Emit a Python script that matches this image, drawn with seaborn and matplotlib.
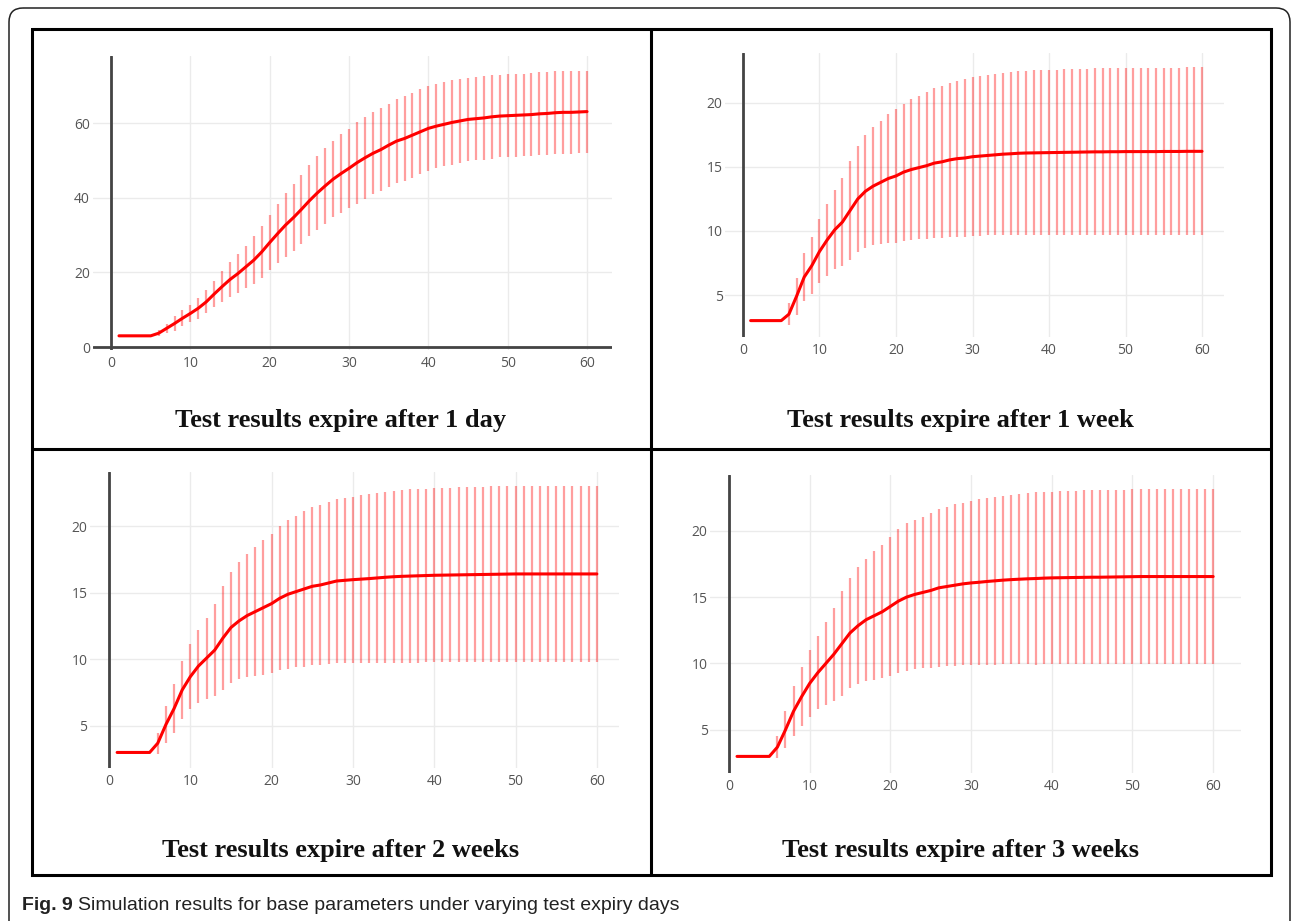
import numpy as np
import pandas as pd
import seaborn as sns
import matplotlib
matplotlib.use("Agg")
import matplotlib.pyplot as plt
from matplotlib.patches import FancyBboxPatch
from matplotlib import font_manager as fm

# ---------------- data ----------------
days = list(range(1, 61))

titles = ["Test results expire after 1 day", "Test results expire after 1 week",
          "Test results expire after 2 weeks", "Test results expire after 3 weeks"]

mean_1day = [3, 3, 3, 3, 3, 3.7, 5.0, 6.3, 7.7, 9.0,
             10.4, 12.1, 14.2, 16.2, 18.1, 19.7, 21.5, 23.3, 25.5, 28.0,
             30.4, 32.7, 34.7, 36.9, 39.2, 41.3, 43.2, 45.0, 46.5, 47.9,
             49.4, 50.7, 51.9, 52.9, 54.1, 55.2, 55.9, 56.8, 57.7, 58.6,
             59.2, 59.7, 60.2, 60.6, 61.0, 61.2, 61.4, 61.7, 61.9, 62.0,
             62.1, 62.2, 62.3, 62.5, 62.6, 62.8, 62.9, 62.9, 63.0, 63.1]
err_1day = [0, 0, 0, 0, 0, 0.8, 1.3, 2.0, 2.1, 2.3,
            2.8, 3.1, 3.4, 4.2, 4.6, 5.1, 5.7, 6.5, 7.0, 7.4,
            8.0, 8.5, 8.9, 9.2, 9.5, 9.9, 10.2, 10.2, 10.5, 10.6,
            11.0, 11.0, 11.0, 11.1, 11.1, 11.3, 11.4, 11.4, 11.4, 11.4,
            11.3, 11.3, 11.3, 11.3, 11.2, 11.2, 11.2, 11.2, 11.1, 11.1,
            11.1, 11.1, 11.1, 11.1, 11.1, 11.1, 11.1, 11.1, 11.1, 11.0]

mean_1week = [3, 3, 3, 3, 3, 3.5, 4.9, 6.4, 7.3, 8.4,
              9.3, 10.1, 10.7, 11.6, 12.5, 13.1, 13.5, 13.8, 14.1, 14.3,
              14.6, 14.8, 14.95, 15.1, 15.3, 15.4, 15.55, 15.65, 15.7, 15.8,
              15.85, 15.9, 15.95, 16.0, 16.03, 16.07, 16.09, 16.1, 16.11, 16.12,
              16.13, 16.14, 16.15, 16.16, 16.17, 16.18, 16.18, 16.19, 16.19, 16.2,
              16.2, 16.2, 16.2, 16.2, 16.21, 16.21, 16.21, 16.22, 16.22, 16.22]
err_1week = [0, 0, 0, 0, 0, 0.85, 1.45, 1.85, 2.2, 2.5,
             2.8, 3.1, 3.45, 3.9, 4.15, 4.4, 4.6, 4.8, 5.0, 5.2,
             5.35, 5.5, 5.6, 5.75, 5.85, 5.95, 6.0, 6.1, 6.15, 6.2,
             6.22, 6.25, 6.3, 6.35, 6.37, 6.4, 6.42, 6.45, 6.45, 6.45,
             6.47, 6.48, 6.5, 6.5, 6.5, 6.51, 6.51, 6.52, 6.52, 6.52,
             6.53, 6.53, 6.53, 6.54, 6.54, 6.54, 6.55, 6.55, 6.55, 6.55]

mean_2weeks = [3, 3, 3, 3, 3, 3.7, 5.1, 6.3, 7.7, 8.7,
               9.5, 10.1, 10.7, 11.6, 12.4, 12.9, 13.3, 13.6, 13.9, 14.2,
               14.6, 14.9, 15.1, 15.3, 15.5, 15.6, 15.75, 15.9, 15.95, 16.0,
               16.04, 16.08, 16.13, 16.18, 16.22, 16.25, 16.27, 16.29, 16.31, 16.33,
               16.34, 16.35, 16.36, 16.37, 16.38, 16.39, 16.4, 16.41, 16.42, 16.43,
               16.43, 16.43, 16.43, 16.43, 16.43, 16.43, 16.43, 16.43, 16.43, 16.43]
err_2weeks = [0, 0, 0, 0, 0, 0.8, 1.4, 1.85, 2.15, 2.45,
              2.75, 3.05, 3.45, 3.9, 4.15, 4.4, 4.65, 4.85, 5.05, 5.25,
              5.4, 5.6, 5.7, 5.85, 5.95, 6.05, 6.1, 6.15, 6.2, 6.25,
              6.3, 6.35, 6.4, 6.45, 6.47, 6.5, 6.52, 6.53, 6.54, 6.55,
              6.56, 6.57, 6.58, 6.59, 6.6, 6.6, 6.61, 6.61, 6.62, 6.62,
              6.63, 6.63, 6.63, 6.64, 6.64, 6.64, 6.65, 6.65, 6.65, 6.65]

mean_3weeks = [3, 3, 3, 3, 3, 3.7, 5.0, 6.4, 7.5, 8.5,
               9.3, 10.0, 10.7, 11.5, 12.3, 12.85, 13.3, 13.6, 13.9, 14.3,
               14.7, 15.0, 15.2, 15.35, 15.5, 15.7, 15.8, 15.9, 16.0, 16.07,
               16.12, 16.18, 16.23, 16.28, 16.32, 16.35, 16.38, 16.4, 16.43, 16.45,
               16.46, 16.47, 16.48, 16.49, 16.5, 16.5, 16.51, 16.52, 16.53, 16.54,
               16.55, 16.55, 16.55, 16.55, 16.55, 16.55, 16.55, 16.55, 16.55, 16.55]
err_3weeks = [0, 0, 0, 0, 0, 0.8, 1.4, 1.9, 2.2, 2.55,
              2.75, 3.1, 3.5, 3.95, 4.15, 4.4, 4.6, 4.85, 5.0, 5.25,
              5.4, 5.55, 5.6, 5.7, 5.85, 5.95, 6.0, 6.1, 6.1, 6.2,
              6.25, 6.3, 6.32, 6.35, 6.38, 6.4, 6.45, 6.5, 6.5, 6.5,
              6.52, 6.53, 6.54, 6.55, 6.55, 6.56, 6.56, 6.57, 6.57, 6.58,
              6.58, 6.58, 6.59, 6.59, 6.59, 6.6, 6.6, 6.6, 6.6, 6.6]

x_ticks = [0, 10, 20, 30, 40, 50, 60]
y_ticks_1day = [0, 20, 40, 60]
y_ticks_other = [5, 10, 15, 20]
caption_bold = "Fig. 9"
caption_rest = "Simulation results for base parameters under varying test expiry days"

# ---------------- layout ----------------
W, H = 1292, 921
sns.set_theme(style="white")
plt.rcParams['font.family'] = ['Open Sans', 'DejaVu Sans']

avail = {f.name for f in fm.fontManager.ttflist}
cap_family = 'Liberation Sans Narrow' if 'Liberation Sans Narrow' in avail else 'Liberation Sans'

fig = plt.figure(figsize=(W / 100, H / 100), dpi=100)
fig.patch.set_facecolor('white')

bg = fig.add_axes([0, 0, 1, 1], zorder=0)
bg.set_xlim(0, W)
bg.set_ylim(H, 0)
bg.axis('off')

# outer rounded frame (bottom runs off the canvas)
bg.add_patch(FancyBboxPatch((9, 8), 1281, 950, boxstyle="round,pad=0,rounding_size=14",
                            fill=False, lw=1.1, ec='#222222', clip_on=True))
# inner box and dividers
bg.plot([32, 1271, 1271, 32, 32], [29, 29, 875, 875, 29], color='black', lw=2.2,
        solid_joinstyle='miter')
bg.plot([651, 651], [29, 875], color='black', lw=2.2)
bg.plot([32, 1271], [449, 449], color='black', lw=2.2)

# panel rects in pixels: (left, top, right, bottom), xlim, ylim
panels = [
    dict(rect=(92.8, 56, 612.4, 350), xlim=(-2.3, 63.2), ylim=(-0.8, 78.0),
         mean=mean_1day, err=err_1day, yt=y_ticks_1day, zero_h=True, title=titles[0], tpos=(341, 420)),
    dict(rect=(725.4, 53, 1224.2, 337), xlim=(-2.3, 62.9), ylim=(1.72, 23.9),
         mean=mean_1week, err=err_1week, yt=y_ticks_other, zero_h=False, title=titles[1], tpos=(960, 420)),
    dict(rect=(90.3, 472, 618.8, 768), xlim=(-2.3, 62.7), ylim=(1.83, 24.1),
         mean=mean_2weeks, err=err_2weeks, yt=y_ticks_other, zero_h=False, title=titles[2], tpos=(341, 850)),
    dict(rect=(710.4, 475, 1240.6, 773), xlim=(-2.3, 63.4), ylim=(1.75, 24.2),
         mean=mean_3weeks, err=err_3weeks, yt=y_ticks_other, zero_h=False, title=titles[3], tpos=(960, 850)),
]

for p in panels:
    l, t, r, b = p['rect']
    ax = fig.add_axes([l / W, 1 - b / H, (r - l) / W, (b - t) / H], zorder=1)
    ax.patch.set_alpha(0)
    df = pd.DataFrame({'day': days, 'mean': p['mean'], 'err': p['err']})
    eb = df[df['err'] > 0]
    ax.vlines(eb['day'], eb['mean'] - eb['err'], eb['mean'] + eb['err'],
              color=(1.0, 0.0, 0.0, 0.38), lw=1.6, zorder=2)
    sns.lineplot(data=df, x='day', y='mean', ax=ax, color='#ff0000', lw=2.2, zorder=4)
    ax.set_xlim(*p['xlim'])
    ax.set_ylim(*p['ylim'])
    ax.set_xticks(x_ticks)
    ax.set_yticks(p['yt'])
    ax.grid(True, color='#ebebeb', lw=1.0, zorder=0)
    ax.set_axisbelow(True)
    ax.axvline(0, color='#444444', lw=2.0, zorder=3)
    if p['zero_h']:
        ax.axhline(0, color='#444444', lw=2.0, zorder=3)
    for s in ax.spines.values():
        s.set_visible(False)
    ax.tick_params(axis='both', length=0, labelsize=10, labelcolor='#555555')
    ax.tick_params(axis='x', pad=4)
    ax.tick_params(axis='y', pad=2)
    ax.set_xlabel('')
    ax.set_ylabel('')
    bg.text(p['tpos'][0], p['tpos'][1], p['title'], ha='center', va='center',
            fontsize=19, fontweight='bold', family='Liberation Serif', color='#111111')

# caption
t1 = bg.text(22, 910, caption_bold + " ", ha='left', va='baseline', fontsize=14,
             fontweight='bold', family=cap_family, color='#222222')
renderer = fig.canvas.get_renderer()
bb = t1.get_window_extent(renderer=renderer)
x_end = bb.x1  # pixels
bg.text(x_end, 910, caption_rest, ha='left', va='baseline', fontsize=14,
        family=cap_family, color='#222222')

fig.savefig('out.png', dpi=100, facecolor='white')
